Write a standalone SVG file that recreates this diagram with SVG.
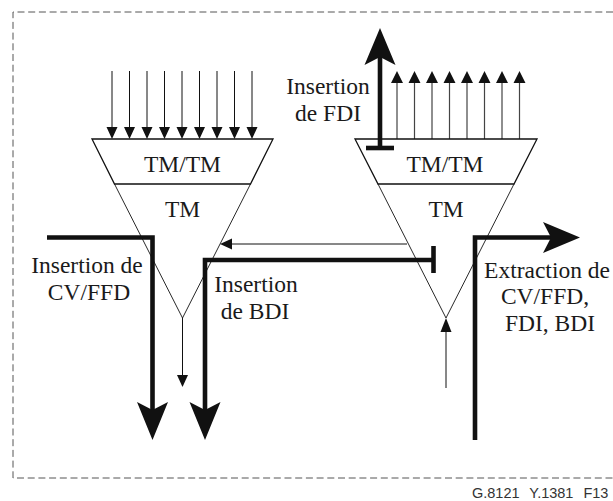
<svg xmlns="http://www.w3.org/2000/svg" width="613" height="501" viewBox="0 0 613 501">
<style>
.lbl{font-family:"Liberation Serif","Times New Roman",serif;font-size:23.5px;fill:#1a1a1a;text-anchor:middle}
.thick{fill:none;stroke:#111;stroke-width:4.6;stroke-linejoin:miter}
.thin{fill:none;stroke:#111;stroke-width:1}
.gray{fill:none;stroke:#444;stroke-width:1.2}
.head{fill:#111;stroke:none}
.fun{fill:none;stroke:#111;stroke-width:1.3}
.funlow{fill:none;stroke:#111;stroke-width:0.9}
</style>
<rect x="0" y="0" width="613" height="501" fill="#fff"/>
<path d="M613,12 H13 V478 H613" fill="none" stroke="#555" stroke-width="1" stroke-dasharray="7 3.7"/>
<text x="472" y="498" font-family="Liberation Sans, Arial, sans-serif" font-size="14.5" fill="#333" word-spacing="6">G.8121 Y.1381 F13</text>

<g id="connectors">
  <g id="in-arrows">
    <path class="thin" d="M112,71V128 M129.5,71V128 M147,71V128 M164.5,71V128 M182,71V128 M199.5,71V128 M217,71V128 M234.5,71V128 M252,71V128"/>
    <path class="head" d="M106.5,127H117.5L112,139Z M124,127H135L129.5,139Z M141.5,127H152.5L147,139Z M159,127H170L164.5,139Z M176.5,127H187.5L182,139Z M194,127H205L199.5,139Z M211.5,127H222.5L217,139Z M229,127H240L234.5,139Z M246.5,127H257.5L252,139Z"/>
  </g>
  <g id="out-arrows">
    <path class="gray" d="M397,139V82 M414.5,139V82 M432,139V82 M449.5,139V82 M467,139V82 M484.5,139V82 M502,139V82 M519.5,139V82"/>
    <path class="head" d="M391,83H403L397,71Z M408.5,83H420.5L414.5,71Z M426,83H438L432,71Z M443.5,83H455.5L449.5,71Z M461,83H473L467,71Z M478.5,83H490.5L484.5,71Z M496,83H508L502,71Z M513.5,83H525.5L519.5,71Z"/>
  </g>
  <path class="thin" d="M182.5,318V376"/>
  <path class="head" d="M177,375H188L182.5,387Z"/>
  <path class="thin" d="M446,388V331"/>
  <path class="head" d="M440.5,332H451.5L446,318Z"/>
  <path class="thin" d="M407,244H230"/>
  <path class="head" d="M232,238.5V249.5L220,244Z"/>
  <path class="thick" d="M47,237.5H152.5V410"/>
  <path class="head" d="M152.5,440L137,402L152.5,410L168,402Z"/>
  <path class="thick" d="M433.5,246V273"/>
  <path class="thick" d="M433.5,260H205V410"/>
  <path class="head" d="M205,440L189.5,402L205,410L220.5,402Z"/>
  <path class="thick" d="M475,440V237.5H551"/>
  <path class="head" d="M580,237.5L543,222L551,237.5L543,253Z"/>
  <path class="thick" d="M366,148H394"/>
  <path class="thick" d="M380,148V57"/>
  <path class="head" d="M380,28L364.5,65L380,57L395.5,65Z"/>
</g>

<g id="left-funnel">
  <polygon class="fun" points="92,139 273,139 250.5,184 114.5,184"/>
  <polyline class="funlow" points="114.5,184 182.5,318 250.5,184"/>
  <text class="lbl" x="182.5" y="172">TM/TM</text>
  <text class="lbl" x="182.5" y="217">TM</text>
</g>

<g id="right-funnel">
  <polygon class="fun" points="355,139 537,139 514,184 378,184"/>
  <polyline class="funlow" points="378,184 446,318 514,184"/>
  <text class="lbl" x="445" y="172">TM/TM</text>
  <text class="lbl" x="446" y="217">TM</text>
</g>

<g id="label-fdi">
  <text class="lbl" x="328" y="94">Insertion</text>
  <text class="lbl" x="328" y="121">de FDI</text>
</g>
<g id="label-cvffd">
  <text class="lbl" x="87" y="273">Insertion de</text>
  <text class="lbl" x="89" y="300">CV/FFD</text>
</g>
<g id="label-bdi">
  <text class="lbl" x="256" y="292">Insertion</text>
  <text class="lbl" x="255" y="319">de BDI</text>
</g>
<g id="label-extraction">
  <text class="lbl" x="547" y="278">Extraction de</text>
  <text class="lbl" x="545" y="304">CV/FFD,</text>
  <text class="lbl" x="550" y="331">FDI, BDI</text>
</g>
</svg>
